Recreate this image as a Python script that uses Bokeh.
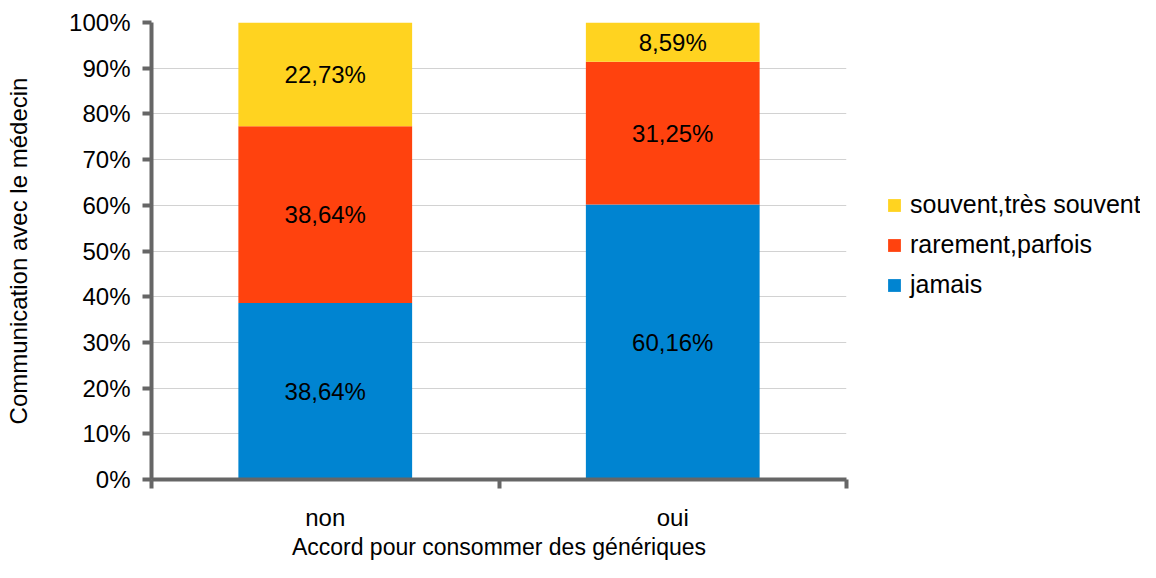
from bokeh.plotting import figure
from bokeh.layouts import row
from bokeh.models import (ColumnDataSource, FixedTicker, PrintfTickFormatter, Legend,
                          LegendItem, Range1d)
from bokeh.core.properties import value
from bokeh.embed import file_html
from bokeh.resources import INLINE

categories = ["non", "oui"]
series = ["jamais", "rarement,parfois", "souvent,très souvent"]
jamais = [38.64, 60.16]
rarement = [38.64, 31.25]
souvent = [22.73, 8.59]
colors = ["#0084D1", "#FF420E", "#FFD320"]
y_ticks = list(range(0, 101, 10))

FONT = "Liberation Sans"
AXIS_COL = "#666666"
FS = "24px"

x = [i + 0.5 for i in range(len(categories))]
src = ColumnDataSource(dict(x=x, jamais=jamais, rarement=rarement, souvent=souvent))

p = figure(width=850, height=562,
           x_range=Range1d(0, len(categories)), y_range=Range1d(0, 100),
           output_backend="svg", toolbar_location=None,
           min_border_left=151, min_border_right=4,
           min_border_top=22, min_border_bottom=81)
p.outline_line_color = None
p.background_fill_color = "white"
p.border_fill_color = "white"

keys = ["jamais", "rarement", "souvent"]
renderers = p.vbar_stack(keys, x="x", width=0.5, source=src, color=colors,
                         line_color=None)

# data labels
for i, k in enumerate(keys):
    vals = src.data[k]
    bottoms = [sum(src.data[kk][j] for kk in keys[:i]) for j in range(len(x))]
    mids = [b + v / 2 for b, v in zip(bottoms, vals)]
    labels = [f"{v:.2f}".replace(".", ",") + "%" for v in vals]
    ls = ColumnDataSource(dict(x=x, y=mids, t=labels))
    p.text(x="x", y="y", text="t", source=ls, text_align="center",
           text_baseline="middle", text_font=value(FONT), text_font_size=FS,
           text_color="black")

# grids
p.ygrid.ticker = FixedTicker(ticks=y_ticks)
p.ygrid.grid_line_color = "#d2d2d2"
p.ygrid.grid_line_width = 1
p.xgrid.ticker = FixedTicker(ticks=[len(categories)])
p.xgrid.grid_line_color = "#d2d2d2"
p.xgrid.grid_line_width = 1

# y axis
ya = p.yaxis[0]
ya.ticker = FixedTicker(ticks=y_ticks)
ya.formatter = PrintfTickFormatter(format="%d%%")
ya.axis_line_color = AXIS_COL
ya.axis_line_width = 4
ya.major_tick_line_color = AXIS_COL
ya.major_tick_line_width = 4
ya.major_tick_out = 9
ya.major_tick_in = 0
ya.minor_tick_line_color = None
ya.major_label_standoff = 12
ya.major_label_text_font = FONT
ya.major_label_text_font_size = FS
ya.major_label_text_color = "black"
ya.axis_label = "Communication avec le médecin"
ya.axis_label_text_font = FONT
ya.axis_label_text_font_size = "24px"
ya.axis_label_text_font_style = "normal"
ya.axis_label_text_color = "black"
ya.axis_label_standoff = 34

# x axis
xa = p.xaxis[0]
xa.ticker = FixedTicker(ticks=x, minor_ticks=list(range(len(categories) + 1)))
xa.major_label_overrides = {xv: c for xv, c in zip(x, categories)}
xa.axis_line_color = AXIS_COL
xa.axis_line_width = 4
xa.major_tick_line_color = None
xa.major_tick_out = 0
xa.major_tick_in = 0
xa.minor_tick_line_color = AXIS_COL
xa.minor_tick_line_width = 4
xa.minor_tick_out = 9
xa.minor_tick_in = 0
xa.major_label_standoff = 15
xa.major_label_text_font = FONT
xa.major_label_text_font_size = FS
xa.major_label_text_color = "black"
xa.axis_label = "Accord pour consommer des génériques"
xa.axis_label_text_font = FONT
xa.axis_label_text_font_size = "23px"
xa.axis_label_text_font_style = "normal"
xa.axis_label_text_color = "black"
xa.axis_label_standoff = 0

# legend in a side figure
q = figure(width=290, height=562, x_range=Range1d(0, 1), y_range=Range1d(0, 1),
           output_backend="svg", toolbar_location=None,
           x_axis_location=None, y_axis_location=None, min_border=0)
q.outline_line_color = None
q.xgrid.visible = False
q.ygrid.visible = False
# zero-size proxies, only used to draw the legend swatches
dummy = [q.rect(x=[0], y=[0], width=0, height=0, color=c, line_color=None)
         for c in colors]
legend = Legend(items=[LegendItem(label=series[i], renderers=[dummy[i]])
                       for i in reversed(range(len(series)))],
                location=(36, 180), orientation="vertical")
legend.border_line_color = None
legend.background_fill_alpha = 0
legend.padding = 0
legend.margin = 0
legend.spacing = 11
legend.label_height = 26
legend.glyph_width = 16
legend.glyph_height = 16
legend.label_standoff = 8
legend.label_text_font = FONT
legend.label_text_font_size = "25px"
legend.label_text_color = "black"
q.add_layout(legend)

layout = row(p, q)
open("out.html", "w").write(file_html(layout, INLINE))
